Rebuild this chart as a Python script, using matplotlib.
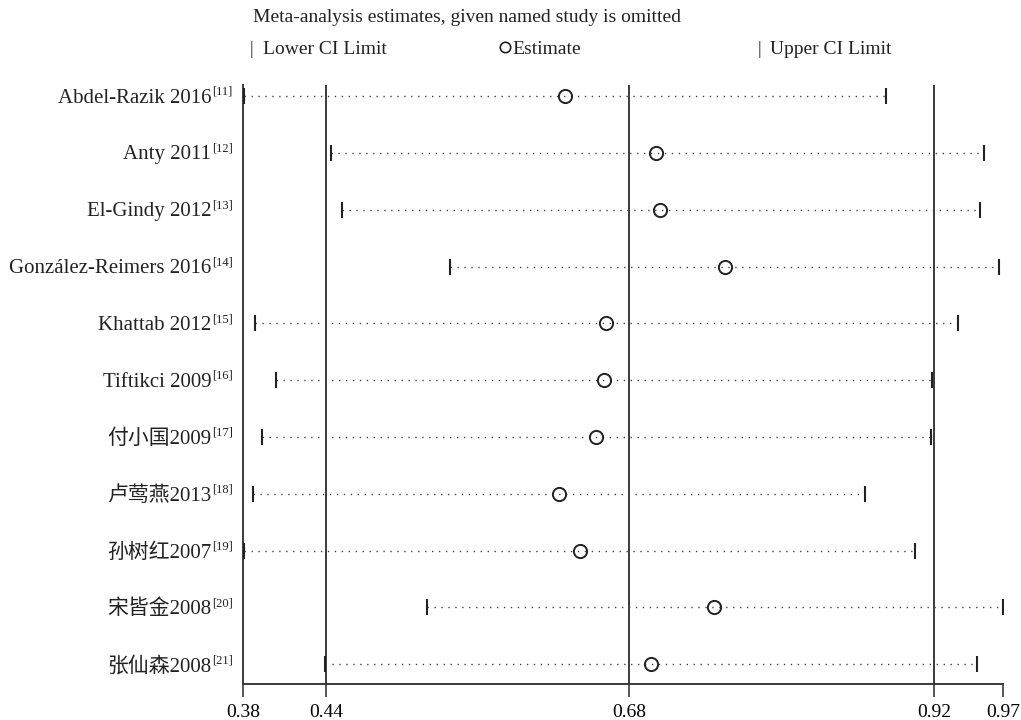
import matplotlib
matplotlib.use('Agg')
import matplotlib.pyplot as plt
from matplotlib.lines import Line2D

plt.rcParams['font.family'] = ['Liberation Serif', 'Noto Sans CJK SC', 'DejaVu Sans']

# studies omitted one at a time
studies = ['Abdel-Razik 2016', 'Anty 2011', 'El-Gindy 2012', 'González-Reimers 2016',
           'Khattab 2012', 'Tiftikci 2009', '付小国2009', '卢莺燕2013',
           '孙树红2007', '宋皆金2008', '张仙森2008']
refs = ['[11]', '[12]', '[13]', '[14]', '[15]', '[16]', '[17]', '[18]', '[19]', '[20]', '[21]']
lower = [0.381, 0.448, 0.457, 0.541, 0.389, 0.406, 0.395, 0.388, 0.381, 0.523, 0.444]
estimate = [0.630, 0.701, 0.704, 0.754, 0.662, 0.660, 0.654, 0.625, 0.642, 0.746, 0.697]
upper = [0.879, 0.955, 0.952, 0.967, 0.935, 0.915, 0.914, 0.863, 0.902, 0.970, 0.950]

# pooled result lines and axis ends
overall_lower, overall_est, overall_upper = 0.4444, 0.680, 0.9165
x_min, x_max = 0.38, 0.97
tick_vals = [x_min, overall_lower, overall_est, overall_upper, x_max]
tick_labels = ['0.38', '0.44', '0.68', '0.92', '0.97']

line_col = '#3a3a3a'

fig = plt.figure(figsize=(10.21, 7.2), dpi=100)
ax = fig.add_axes([243 / 1021, 36 / 720, 760 / 1021, 599 / 720])
n = len(studies)
ax.set_xlim(x_min, x_max)
ax.set_ylim(n - 1 + 0.347, -0.194)

for v in [overall_lower, overall_est, overall_upper]:
    ax.axvline(v, color=line_col, lw=1.4, zorder=1)

for i in range(n):
    ax.hlines(i, lower[i], upper[i], colors='#444444', linestyles=(0, (1, 4)), lw=1.0, zorder=2)
    ax.plot([lower[i], upper[i]], [i, i], ls='none', marker='|', ms=11, mew=1.5,
            color='#222222', zorder=3)
    ax.plot(estimate[i], i, ls='none', marker='o', ms=9.5, mfc='none', mew=1.4,
            mec='#222222', zorder=3)

for s in ['top', 'right']:
    ax.spines[s].set_visible(False)
for s in ['left', 'bottom']:
    ax.spines[s].set_color(line_col)
    ax.spines[s].set_linewidth(1.4)

ax.set_yticks([])
ax.set_xticks(tick_vals, tick_labels)
ax.tick_params(axis='x', length=9.5, width=1.2, color=line_col, labelsize=14, pad=5)

# study labels with bracketed superscript references
renderer = fig.canvas.get_renderer()
ytrans = ax.get_yaxis_transform()
for i in range(n):
    sup = ax.annotate(refs[i], xy=(0, i), xycoords=ytrans, xytext=(-7.5, 3.0),
                      textcoords='offset points', ha='right', va='center',
                      fontsize=9, color='#222222')
    w = sup.get_window_extent(renderer).width * 72 / fig.dpi
    ax.annotate(studies[i], xy=(0, i), xycoords=ytrans, xytext=(-7.5 - w - 0.5, -1.5),
                textcoords='offset points', ha='right', va='center',
                fontsize=15, color='#222222')

# header and legend line
fig.text(253 / 1021, 1 - 18 / 720, 'Meta-analysis estimates, given named study is omitted',
         va='center', fontsize=14, color='#222222')
ly = 1 - 49 / 720
fig.text(250 / 1021, ly, '|', va='center', fontsize=13, color='#222222')
fig.text(263 / 1021, ly, 'Lower CI Limit', va='center', fontsize=14, color='#222222')
fig.add_artist(Line2D([505 / 1021], [1 - 47 / 720], marker='o', ms=7.5, mfc='none', mew=1.2,
                      mec='#222222', transform=fig.transFigure))
fig.text(512 / 1021, ly, 'Estimate', va='center', fontsize=14, color='#222222')
fig.text(758 / 1021, ly, '|', va='center', fontsize=13, color='#222222')
fig.text(770 / 1021, ly, 'Upper CI Limit', va='center', fontsize=14, color='#222222')

fig.savefig('out.png', dpi=100)
